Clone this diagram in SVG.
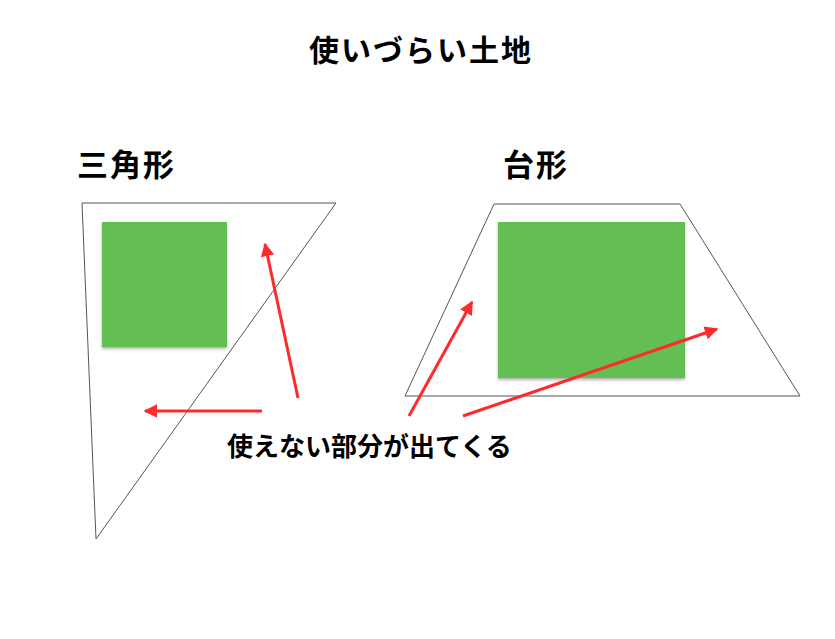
<svg xmlns="http://www.w3.org/2000/svg" width="835" height="639" viewBox="0 0 835 639">
<defs>
<style>
.t{font-family:"Noto Sans CJK JP","Noto Sans CJK SC",sans-serif;font-weight:bold;fill:#000}
.shape{fill:none;stroke:#555;stroke-width:1}
.green{fill:#64bf52}
.arr{stroke:#ff2a2a;stroke-width:3;fill:none;marker-end:url(#ah)}
</style>
<marker id="ah" viewBox="0 0 10 10" refX="9" refY="5" markerWidth="4.5" markerHeight="4.5" orient="auto" markerUnits="strokeWidth">
<path d="M0,0 L10,5 L0,10 Z" fill="#ff2a2a"/>
</marker>
<filter id="sh" x="-10%" y="-10%" width="130%" height="130%">
<feDropShadow dx="0" dy="2" stdDeviation="1.5" flood-color="#000" flood-opacity="0.3"/>
</filter>
</defs>
<rect width="835" height="639" fill="#fff"/>
<g id="title"><text class="t" x="421" y="61" font-size="30" letter-spacing="2" text-anchor="middle">使いづらい土地</text></g>
<g id="triangle">
<text class="t" x="77" y="176" font-size="31" letter-spacing="2">三角形</text>
<polygon class="shape" points="82,203 336,203 96,539"/>
<rect class="green" x="102" y="222" width="125" height="125" filter="url(#sh)"/>
</g>
<g id="trapezoid">
<text class="t" x="503" y="176" font-size="31" letter-spacing="2">台形</text>
<polygon class="shape" points="405,396 494,204 680,204 800,396"/>
<rect class="green" x="498" y="222" width="187" height="156" filter="url(#sh)"/>
</g>
<g id="label"><text class="t" x="227" y="456" font-size="26">使えない部分が出てくる</text></g>
<g id="connectors">
<line class="arr" x1="298" y1="398" x2="265" y2="244"/>
<line class="arr" x1="262" y1="411" x2="145" y2="411"/>
<line class="arr" x1="409" y1="416" x2="472" y2="302"/>
<line class="arr" x1="463" y1="416" x2="717" y2="329"/>
</g>
</svg>
